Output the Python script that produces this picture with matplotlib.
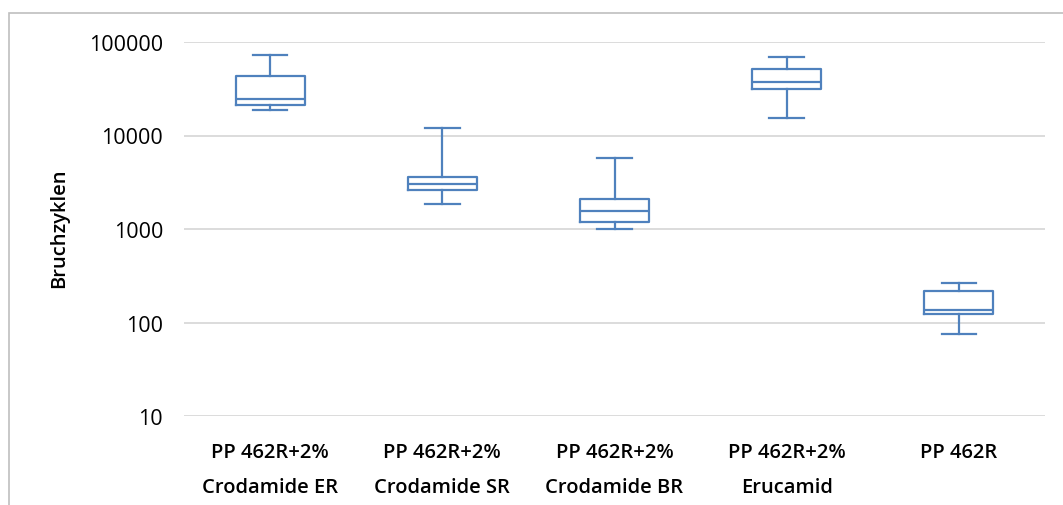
import matplotlib
matplotlib.use("Agg")
import matplotlib.pyplot as plt
from matplotlib.patches import Rectangle

categories = ["PP 462R+2%\nCrodamide ER", "PP 462R+2%\nCrodamide SR",
              "PP 462R+2%\nCrodamide BR", "PP 462R+2%\nErucamid", "PP 462R"]
whislo = [18900, 1850, 1000, 15400, 75]
q1 = [21200, 2630, 1200, 31400, 123]
med = [24500, 3050, 1570, 37100, 137]
q3 = [43700, 3630, 2090, 51400, 216]
whishi = [73000, 12100, 5790, 68600, 267]
yticks = [10, 100, 1000, 10000, 100000]

plt.rcParams['font.family'] = ['Open Sans', 'DejaVu Sans']
color = '#4F81BD'

fig = plt.figure(figsize=(10.63, 5.06), dpi=100)
ax = fig.add_axes([184/1063, 1-417/506, (1045-184)/1063, (417-43)/506])

stats = []
for i, c in enumerate(categories):
    stats.append(dict(label=c, whislo=whislo[i], q1=q1[i], med=med[i],
                      q3=q3[i], whishi=whishi[i], fliers=[]))

lp = dict(color=color, linewidth=1.6)
ax.bxp(stats, positions=range(1, len(categories)+1), widths=0.4,
       boxprops=lp, medianprops=lp, whiskerprops=lp, capprops=lp,
       showfliers=False, capwidths=0.2, manage_ticks=False)

ax.set_yscale('log')
ax.set_ylim(10, 100000)
ax.set_xlim(0.5, len(categories)+0.5)
ax.set_yticks(yticks)
ax.set_yticklabels([str(v) for v in yticks])
ax.minorticks_off()
ax.set_xticks(range(1, len(categories)+1))
ax.set_xticklabels(categories, fontweight='semibold', fontsize=14.5, linespacing=1.95)
ax.tick_params(axis='x', length=0, pad=19)
ax.tick_params(axis='y', length=0, pad=15, labelsize=15.5)
ax.yaxis.grid(True, color='#D9D9D9', linewidth=1.3)
ax.set_axisbelow(True)
for s in ax.spines.values():
    s.set_visible(False)

fig.text(59/1063, 1-228/506, 'Bruchzyklen', rotation=90, fontweight='semibold',
         fontsize=14.5, ha='center', va='center')

fig.patches.append(Rectangle((9/1063, -0.2), 1.2, 1.2 - 14/506,
                             transform=fig.transFigure, fill=False,
                             edgecolor='#BFBFBF', linewidth=1.2))

fig.savefig('out.png', dpi=100)
